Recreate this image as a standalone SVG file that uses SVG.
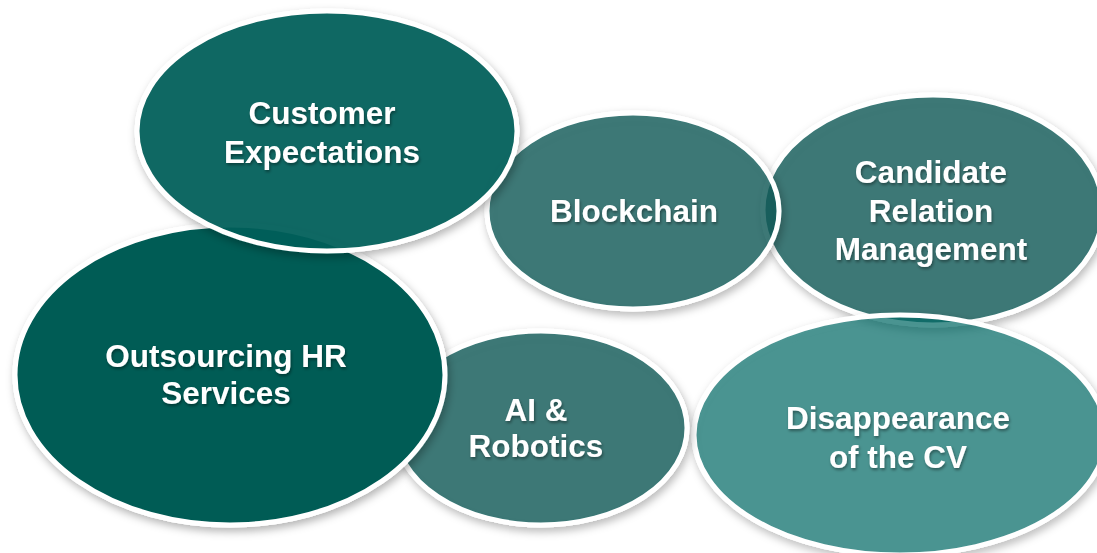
<svg xmlns="http://www.w3.org/2000/svg" width="1097" height="553" viewBox="0 0 1097 553">
<defs>
<filter id="sh" x="-20%" y="-20%" width="140%" height="140%">
<feGaussianBlur in="SourceAlpha" stdDeviation="4" result="b"/>
<feOffset in="b" dx="2" dy="4" result="o"/>
<feComposite in="o" in2="SourceAlpha" operator="out" result="c"/>
<feColorMatrix in="c" type="matrix" values="0 0 0 0 0  0 0 0 0 0  0 0 0 0 0  0 0 0 0.3 0" result="s"/>
<feMerge><feMergeNode in="s"/><feMergeNode in="SourceGraphic"/></feMerge>
</filter>
<filter id="tsh" x="-10%" y="-30%" width="120%" height="160%">
<feDropShadow dx="1" dy="2" stdDeviation="1.5" flood-color="#000" flood-opacity="0.4"/>
</filter>
</defs>
<style>
.n ellipse{stroke:#fff;stroke-width:5;filter:url(#sh)}
.n text{font-family:"Liberation Sans",Arial,sans-serif;font-weight:bold;font-size:31.5px;fill:#fff;text-anchor:middle;filter:url(#tsh)}
.mid{fill:#095956;fill-opacity:0.8}
</style>
<rect width="1097" height="553" fill="#fff"/>
<g id="connectors"/>
<g id="candidate" class="n">
<ellipse class="mid" cx="933" cy="210" rx="170" ry="115"/>
<text x="931" y="183">Candidate</text>
<text x="931" y="222">Relation</text>
<text x="931" y="260">Management</text>
</g>
<g id="disappearance" class="n">
<ellipse cx="900" cy="435" rx="206" ry="120" fill="#006865" fill-opacity="0.69"/>
<text x="898" y="429">Disappearance</text>
<text x="898" y="468">of the CV</text>
</g>
<g id="blockchain" class="n">
<ellipse class="mid" cx="633" cy="211" rx="146" ry="98"/>
<text x="634" y="222">Blockchain</text>
</g>
<g id="ai" class="n">
<ellipse class="mid" cx="541" cy="428" rx="146" ry="97"/>
<text x="536" y="421">AI &amp;</text>
<text x="536" y="457">Robotics</text>
</g>
<g id="outsourcing" class="n">
<ellipse cx="230" cy="375" rx="215" ry="150" fill="#005b55"/>
<text x="226" y="367">Outsourcing HR</text>
<text x="226" y="404">Services</text>
</g>
<g id="customer" class="n">
<ellipse cx="327" cy="131" rx="190" ry="120" fill="#005d58" fill-opacity="0.94"/>
<text x="322" y="124">Customer</text>
<text x="322" y="163">Expectations</text>
</g>
</svg>
